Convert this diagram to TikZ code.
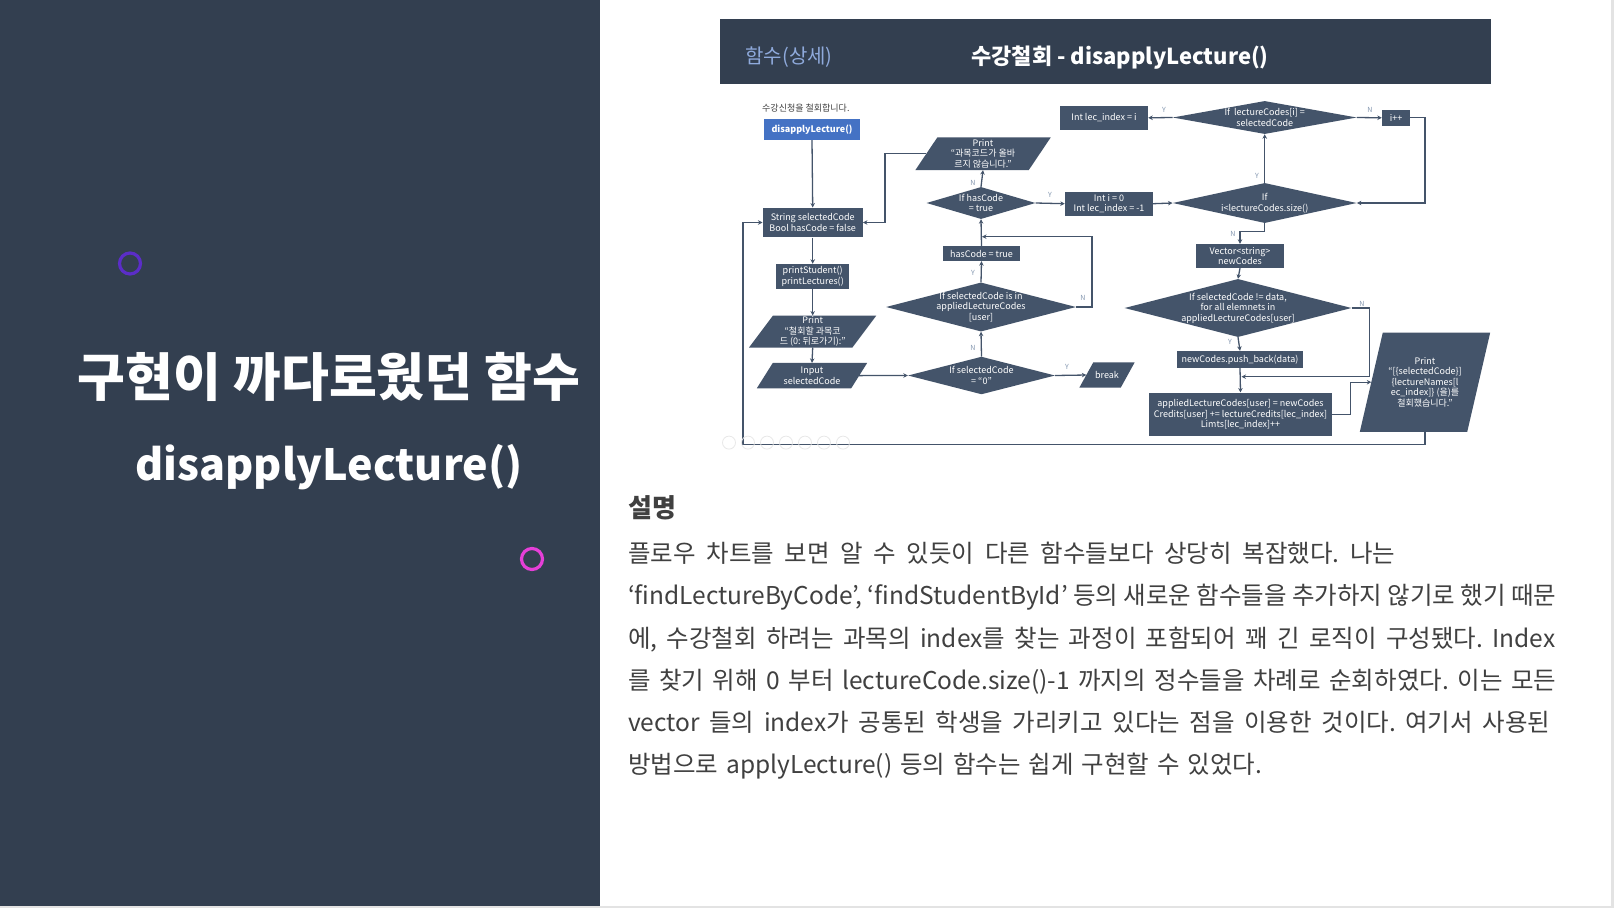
\documentclass[tikz,border=0pt]{standalone}
\usepackage{fontspec}
\setmainfont{Noto Sans CJK KR}
\usetikzlibrary{shapes.geometric,arrows.meta,calc}
\definecolor{panel}{HTML}{333F50}
\definecolor{shp}{HTML}{44546A}
\definecolor{lnc}{HTML}{44546A}
\definecolor{ync}{HTML}{8497B0}
\definecolor{blu}{HTML}{4472C4}
\definecolor{hdr}{HTML}{8FAADC}
\definecolor{txt}{HTML}{404040}
\definecolor{purp}{HTML}{5B2DC8}
\definecolor{mag}{HTML}{E63FD8}
\definecolor{edge}{HTML}{E3E3E3}
\frenchspacing
\tikzset{
 fcfont/.style={font=\fontsize{9}{10.5}\selectfont},
 fcbox/.style={fcfont, rectangle, fill=shp, text=white, inner sep=0pt, align=center},
 fcdia/.style={diamond, fill=shp, inner sep=0pt},
 fclab/.style={fcfont, text=white, align=center, inner sep=0pt},
 ghost/.style={rectangle, inner sep=0pt},
 conn/.style={draw=lnc, line width=1.3pt, -{Stealth[length=4.5pt,width=4.5pt]}},
 yn/.style={font=\fontsize{7}{8}\selectfont, text=ync, inner sep=0pt},
 body/.style={font=\fontsize{24.5}{28}\selectfont\frenchspacing, text=txt, anchor=base west, inner sep=0pt},
 ring/.style={line width=3.2pt},
 icon/.style={circle, draw=black!9, line width=0.8pt, minimum size=13pt, inner sep=0pt},
}
% name, x, y, body width, height, slant, text
\newcommand{\fcpara}[7]{%
  \node[ghost, minimum width=#4pt, minimum height=#5pt] (#1) at (#2,#3) {};
  \fill[shp] ([xshift=#6pt/2]#1.north west) -- ([xshift=#6pt/2]#1.north east)
     -- ([xshift=-#6pt/2]#1.south east) -- ([xshift=-#6pt/2]#1.south west) -- cycle;
  \node[fclab] (#1t) at (#1.center) {#7};
}
\newcommand{\bline}[2]{\makebox[#1pt][s]{#2}}
\begin{document}
\begin{tikzpicture}[x=1pt,y=-1pt]
\useasboundingbox (0,0) rectangle (1614,908);
\fill[white] (0,0) rectangle (1614,908);
\fill[edge] (0,905.5) rectangle (1614,908);
\fill[edge] (1610.5,0) rectangle (1614,908);
% left panel
\fill[panel] (0,0) rectangle (600,905.5);
\draw[ring, draw=purp] (130,263.5) circle (10.5pt);
\draw[ring, draw=mag] (532,559) circle (10.5pt);
\node[font=\fontsize{52}{62}\selectfont\bfseries, text=white] (t1) at (329,377) {구현이 까다로웠던 함수};
\node[font=\fontsize{43}{52}\selectfont\bfseries, text=white] (t2) at (329,467) {disapplyLecture()};
% header bar
\fill[panel] (720,18.5) rectangle (1491,84.4);
\node[font=\fontsize{20}{24}\selectfont, text=hdr, anchor=west] (h1) at (742,57.5) {함수(상세)};
\node[font=\fontsize{22}{26}\selectfont\bfseries, text=white] (h2) at (1120,57.5) {수강철회 - disapplyLecture()};
% caption
\node[font=\fontsize{9}{10}\selectfont, text=txt, anchor=west, inner sep=0pt] (cap) at (762,108) {수강신청을 철회합니다.};
% left column
\node[fcbox, fill=blu, font=\fontsize{9}{10.5}\selectfont\bfseries, minimum width=96pt, minimum height=21pt] (start) at (812,129.5) {disapplyLecture()};
\node[fcbox, minimum width=100pt, minimum height=29.6pt] (sc) at (812.7,222.5) {String selectedCode\\Bool hasCode = false};
\node[fcbox, minimum width=73pt, minimum height=25pt] (ps) at (812.7,276.5) {printStudent()\\printLectures()};
\fcpara{pr1}{812.7}{331.5}{103}{31.6}{24}{Print\\“철회할 과목코\\드 (0: 뒤로가기):”}
\fcpara{in1}{812}{375.6}{94}{25}{16}{Input\\selectedCode}
% middle column
\node[fcdia, minimum width=147pt, minimum height=37.6pt] (d0) at (981.5,375.5) {};
\node[fclab] (d0t) at (d0) {If selectedCode\\= “0”};
\fcpara{brk}{1107}{375}{41}{25}{14}{break}
\node[fcdia, minimum width=190pt, minimum height=49pt] (dIn) at (981,307) {};
\node[fclab] (dInt) at (dIn) {If selectedCode is in\\appliedLectureCodes\\{[user]}};
\node[fcbox, minimum width=77pt, minimum height=15pt] (hc) at (981.5,253.5) {hasCode = true};
\node[fcdia, minimum width=109pt, minimum height=32pt] (dHas) at (981,203) {};
\node[fclab] (dHast) at (dHas) {If hasCode\\= true};
\fcpara{pr2}{983}{153.8}{113}{32.3}{22}{Print\\“과목코드가 올바\\르지 않습니다.”}
\node[fcbox, minimum width=88pt, minimum height=24pt] (init) at (1109,203.7) {Int i = 0\\Int lec\_index = -1};
\node[fcbox, minimum width=88pt, minimum height=24.3pt] (lec) at (1104,117.8) {Int lec\_index = i};
% right column
\node[fcdia, minimum width=184pt, minimum height=40pt] (dSize) at (1264.7,203) {};
\node[fclab] (dSizet) at (dSize) {If\\i<lectureCodes.size()};
\node[fcdia, minimum width=184pt, minimum height=33pt] (dEq) at (1264.7,117.5) {};
\node[fclab] (dEqt) at (dEq) {If \ lectureCodes[i] =\\selectedCode};
\node[fcbox, minimum width=28pt, minimum height=15.7pt] (inc) at (1396,117.8) {i++};
\node[fcbox, minimum width=88pt, minimum height=24pt] (vec) at (1240,256) {Vector<string>\\newCodes};
\node[fcdia, minimum width=227pt, minimum height=58pt] (dNe) at (1238,308) {};
\node[fclab] (dNet) at (dNe) {If selectedCode != data,\\for all elemnets in\\appliedLectureCodes[user]};
\node[fcbox, minimum width=126pt, minimum height=17pt] (push) at (1240,359.5) {newCodes.push\_back(data)};
\node[fcbox, minimum width=183pt, minimum height=43.3pt] (app) at (1240.5,414.3) {appliedLectureCodes[user] = newCodes\\Credits[user] += lectureCredits[lec\_index]\\Limts[lec\_index]++};
\fcpara{pr3}{1425}{382.2}{107}{99}{23}{Print\\“[\{selectedCode\}]\\\{lectureNames[l\\ec\_index]\} (을)를\\철회했습니다.”}
% junction coordinates
\coordinate (j1) at (982,236.7);
\coordinate (j2) at (1241.5,376.7);
\coordinate (c1) at (743,444.7);
% connectors
\draw[conn] (start.south) -- (sc.north);
\draw[conn] (sc.south) -- (ps.north);
\draw[conn] (ps.south) -- (pr1.north);
\draw[conn] (pr1.south) -- (in1.north);
\draw[conn] (in1.east) -- (d0.west);
\draw[conn] (d0.east) -- (brk.west);
\draw[conn] (d0.north) -- (dIn.south);
\draw[conn] (dIn.north) -- (hc.south);
\draw[conn] (hc.north) -- (dHas.south);
\draw[conn] (dIn.east) -- ++(15.7,0) |- (j1);
\draw[conn] (dHas.north) -- (pr2.south);
\draw[conn] (pr2.west) -| ($(sc.east)+(22,0)$) -- (sc.east);
\draw[conn] (dHas.east) -- (init.west);
\draw[conn] (init.east) -- (dSize.west);
\draw[conn] (dSize.north) -- (dEq.south);
\draw[conn] (dEq.west) -- (lec.east);
\draw[conn] (dEq.east) -- (inc.west);
\draw[conn] (inc.east) -| ($(dSize.east)+(68,0)$) -- (dSize.east);
\draw[conn] (dSize.south) |- ($(vec.north)+(0,-12)$) -- (vec.north);
\draw[conn] (vec.south) -- (dNe.north);
\draw[conn] (dNe.south) -- (push.north);
\draw[conn] (dNe.east) -| ($(j2)+(128,0)$) -- (j2);
\draw[conn] (push.south) -- (app.north);
\draw[conn] (app.east) -- ++(18,0) |- (pr3.west);
\draw[conn] (pr3.south) |- (c1) |- (sc.west);
% Y/N labels
\node[yn] (l1) at (1067,367) {Y};
\node[yn] (l2) at (973,348) {N};
\node[yn] (l3) at (973,273) {Y};
\node[yn] (l4) at (1083,298) {N};
\node[yn] (l5) at (973,183) {N};
\node[yn] (l6) at (1050,195) {Y};
\node[yn] (l7) at (1257,176) {Y};
\node[yn] (l8) at (1164,110) {Y};
\node[yn] (l9) at (1370,110) {N};
\node[yn] (l10) at (1233,234) {N};
\node[yn] (l11) at (1230,342) {Y};
\node[yn] (l12) at (1362,304) {N};
% faint slide-show icons
\foreach \xx [count=\k] in {729,748,767,786,805,824,843}
  \node[icon] (ic\k) at (\xx,442.6) {};
% description
\node[font=\fontsize{26}{30}\selectfont\bfseries, text=txt, anchor=base west, inner sep=0pt] (sm) at (628,517) {설명};
\node[body] (b1) at (628,562) {\bline{767}{플로우 차트를 보면 알 수 있듯이 다른 함수들보다 상당히 복잡했다. 나는}};
\node[body] (b2) at (628,604.2) {\bline{928}{‘findLectureByCode’, ‘findStudentById’ 등의 새로운 함수들을 추가하지 않기로 했기 때문}};
\node[body] (b3) at (628,647) {\bline{927}{에, 수강철회 하려는 과목의 index를 찾는 과정이 포함되어 꽤 긴 로직이 구성됐다. Index}};
\node[body] (b4) at (628,689.4) {\bline{928}{를 찾기 위해 0 부터 lectureCode.size()-1 까지의 정수들을 차례로 순회하였다. 이는 모든}};
\node[body] (b5) at (628,731.6) {\bline{922}{vector 들의 index가 공통된 학생을 가리키고 있다는 점을 이용한 것이다. 여기서 사용된}};
\node[body] (b6) at (628,773.8) {\bline{634}{방법으로 applyLecture() 등의 함수는 쉽게 구현할 수 있었다.}};
\end{tikzpicture}
\end{document}
